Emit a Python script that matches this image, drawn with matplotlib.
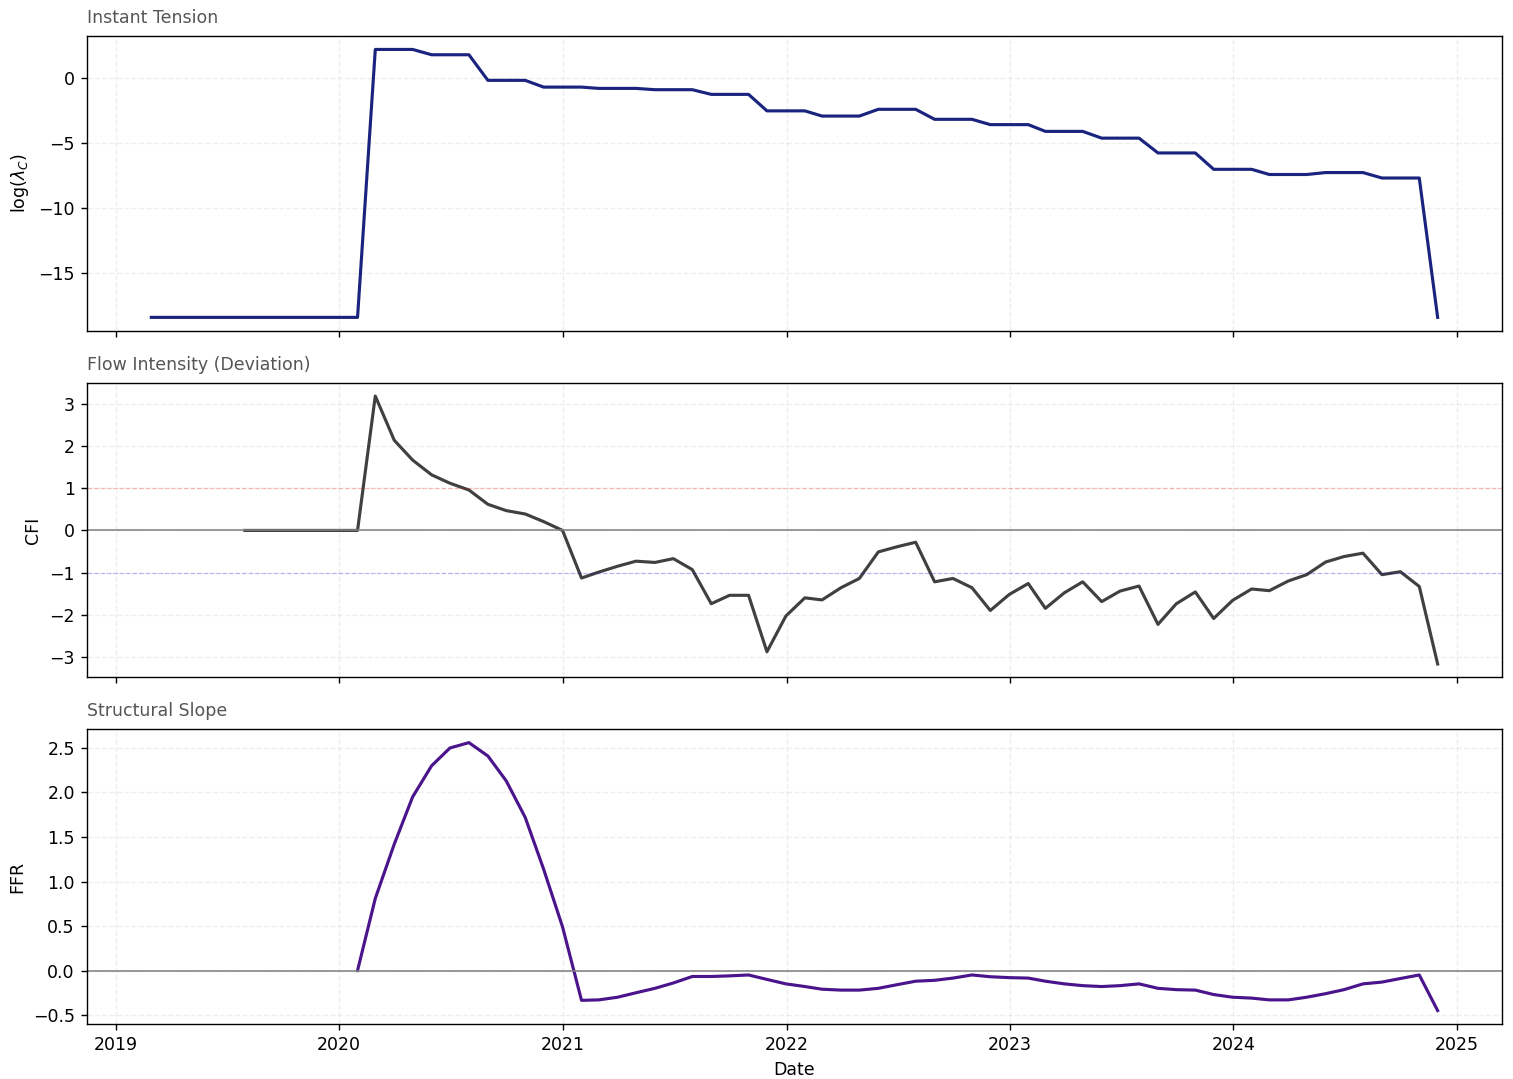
import numpy as np
import pandas as pd
import matplotlib
matplotlib.use("Agg")
import matplotlib.pyplot as plt

# month-end observations, Feb 2019 .. Nov 2024
dates = pd.date_range("2019-02-28", periods=70, freq="ME")

nan = np.nan

log_lambda = [
    -18.4, -18.4, -18.4, -18.4, -18.4, -18.4, -18.4, -18.4, -18.4, -18.4, -18.4, -18.4,
    2.23, 2.23, 2.23, 1.82, 1.82, 1.82, -0.15, -0.15, -0.15,
    -0.67, -0.67, -0.67, -0.77, -0.77, -0.77, -0.87, -0.87, -0.87,
    -1.23, -1.23, -1.23, -2.5, -2.5, -2.5, -2.9, -2.9, -2.9,
    -2.38, -2.38, -2.38, -3.15, -3.15, -3.15, -3.56, -3.56, -3.56,
    -4.08, -4.08, -4.08, -4.6, -4.6, -4.6, -5.74, -5.74, -5.74,
    -7.0, -7.0, -7.0, -7.4, -7.4, -7.4, -7.25, -7.25, -7.25,
    -7.67, -7.67, -7.67, -18.4,
]

cfi = [
    nan, nan, nan, nan, nan, 0.0, 0.0, 0.0, 0.0, 0.0, 0.0, 0.0,
    3.19, 2.14, 1.67, 1.32, 1.12, 0.96, 0.62, 0.47, 0.39, 0.21, 0.0,
    -1.13, -0.99, -0.85, -0.73, -0.76, -0.67, -0.93, -1.74, -1.54, -1.54,
    -2.88, -2.03, -1.6, -1.65, -1.36, -1.14, -0.51, -0.39, -0.28,
    -1.22, -1.14, -1.36, -1.9, -1.52, -1.26, -1.85, -1.48, -1.22,
    -1.69, -1.44, -1.32, -2.23, -1.74, -1.46, -2.09, -1.66, -1.39,
    -1.43, -1.2, -1.05, -0.75, -0.62, -0.54, -1.05, -0.98, -1.33, -3.17,
]

ffr = [
    nan, nan, nan, nan, nan, nan, nan, nan, nan, nan, nan, 0.0,
    0.81, 1.42, 1.95, 2.30, 2.50, 2.56, 2.41, 2.13, 1.72, 1.14, 0.49,
    -0.335, -0.33, -0.30, -0.25, -0.20, -0.14, -0.067, -0.067, -0.06, -0.05,
    -0.10, -0.15, -0.18, -0.21, -0.22, -0.22, -0.20, -0.16, -0.12,
    -0.11, -0.085, -0.05, -0.07, -0.08, -0.085, -0.12, -0.15, -0.17,
    -0.18, -0.17, -0.15, -0.20, -0.215, -0.22, -0.27, -0.30, -0.31,
    -0.33, -0.33, -0.30, -0.26, -0.215, -0.15, -0.13, -0.09, -0.05, -0.45,
]

DPI = 125
fig, axes = plt.subplots(3, 1, figsize=(1513 / DPI, 1079 / DPI), dpi=DPI, sharex=True)
fig.subplots_adjust(left=0.0575, right=0.9927, top=0.9666, bottom=0.051, hspace=0.176)

ax1, ax2, ax3 = axes
title_kw = dict(loc="left", fontsize=10, color="#555555", pad=7.5)

ax1.plot(dates, log_lambda, color="#1a237e", lw=1.8)
ax1.set_title("Instant Tension", **title_kw)
ax1.set_ylabel(r"log($\lambda_C$)")

ax2.plot(dates, cfi, color="#404040", lw=1.8)
ax2.axhline(0, color="gray", lw=0.9)
ax2.axhline(1, color="red", ls="--", lw=0.7, alpha=0.25)
ax2.axhline(-1, color="blue", ls="--", lw=0.7, alpha=0.25)
ax2.set_title("Flow Intensity (Deviation)", **title_kw)
ax2.set_ylabel("CFI")

ax3.plot(dates, ffr, color="#4a148c", lw=1.8)
ax3.axhline(0, color="gray", lw=0.9)
ax3.set_title("Structural Slope", **title_kw)
ax3.set_ylabel("FFR")
ax3.set_xlabel("Date")

for ax in axes:
    ax.grid(True, ls="--", alpha=0.2)

fig.savefig("out.png", dpi=DPI)
